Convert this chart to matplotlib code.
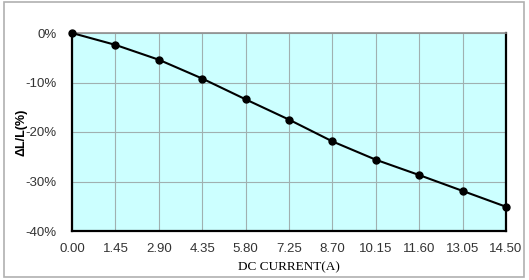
import matplotlib
matplotlib.use("Agg")
import matplotlib.pyplot as plt
from matplotlib.patches import Rectangle
from matplotlib.ticker import FuncFormatter

current = [0.00, 1.45, 2.90, 4.35, 5.80, 7.25, 8.70, 10.15, 11.60, 13.05, 14.50]
delta_l = [0.0, -2.4, -5.4, -9.2, -13.4, -17.5, -21.9, -25.6, -28.7, -31.9, -35.1]
x_ticks = [0.00, 1.45, 2.90, 4.35, 5.80, 7.25, 8.70, 10.15, 11.60, 13.05, 14.50]
y_ticks = [0, -10, -20, -30, -40]

fig = plt.figure(figsize=(5.29, 2.80), dpi=100)
fig.patch.set_facecolor("white")
fig.add_artist(Rectangle((4/529, 1-277/280), 520/529, 275/280, transform=fig.transFigure,
                         fill=False, edgecolor="#b0b0b0", linewidth=1.2))

ax = fig.add_axes([72/529, 1-231/280, (506-72)/529, (231-33)/280])
ax.set_facecolor("#ccffff")
ax.plot(current, delta_l, color="black", linewidth=1.5, marker="o", markersize=5, zorder=3, clip_on=False)
ax.set_xlim(0, 14.5)
ax.set_ylim(-40, 0)
ax.set_xticks(x_ticks)
ax.set_xticklabels([f"{v:.2f}" for v in x_ticks])
ax.set_yticks(y_ticks)
ax.yaxis.set_major_formatter(FuncFormatter(lambda v, p: f"{int(v)}%"))
ax.grid(True, color="#a0b0b0", linewidth=0.8)
ax.set_axisbelow(True)
ax.tick_params(length=0, labelsize=9.5, colors="#333333")
ax.tick_params(axis="x", pad=9)
ax.tick_params(axis="y", pad=11)
for lbl in ax.get_xticklabels() + ax.get_yticklabels():
    lbl.set_family("Liberation Sans")
for s in ["left", "bottom", "right"]:
    ax.spines[s].set_linewidth(1.6)
    ax.spines[s].set_color("black")
ax.spines["top"].set_color("#909090")
ax.spines["top"].set_linewidth(1.2)
ax.set_xlabel("DC CURRENT(A)", family="Liberation Serif", fontsize=9.5, labelpad=4)
ax.set_ylabel("ΔL/L(%)", family="Liberation Sans", fontsize=9, fontweight="bold")
ax.yaxis.set_label_coords(-0.102, 0.5)

fig.savefig("out.png", dpi=100)
